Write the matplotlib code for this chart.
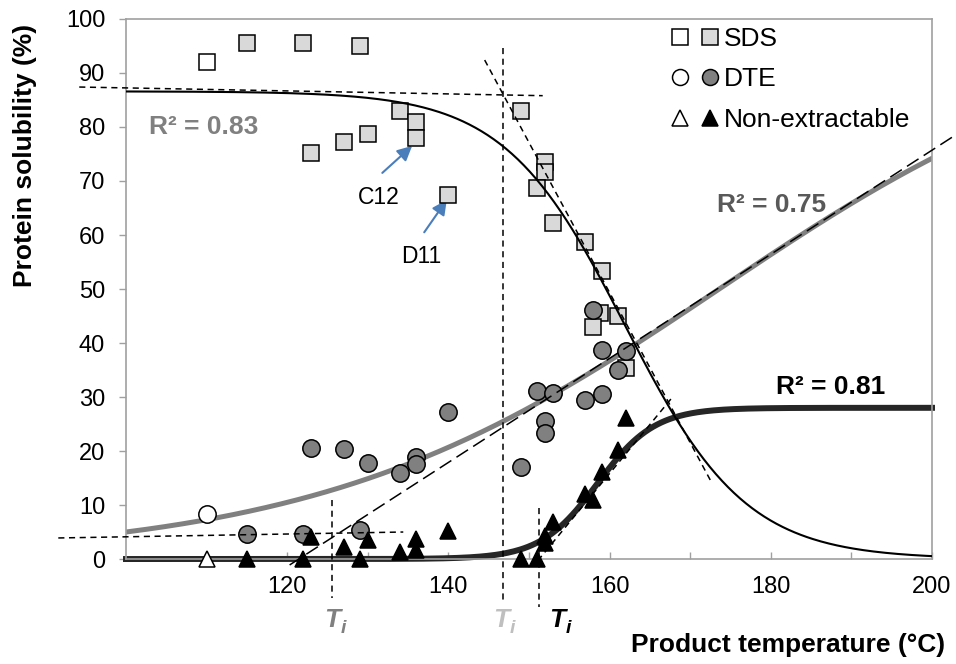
import numpy as np
import matplotlib
matplotlib.use("Agg")
import matplotlib.pyplot as plt
from matplotlib.lines import Line2D
from matplotlib.legend_handler import HandlerTuple

plt.rcParams['font.family'] = ['Liberation Sans', 'DejaVu Sans']

# --- data ---
sds_open_x = [110]
sds_open_y = [92]
sds_x = [115, 122, 129, 123, 127, 130, 134, 136, 136, 140, 149, 152, 152, 151, 153,
         157, 159, 158.8, 158, 161, 162]
sds_y = [95.5, 95.5, 95, 75.2, 77.2, 78.7, 83, 81, 78, 67.4, 83, 73.5, 71.7, 68.7, 62.3,
         58.7, 53.3, 45.5, 43, 45, 35.3]

dte_open_x = [110]
dte_open_y = [8.3]
dte_x = [115, 122, 123, 127, 129, 130, 134, 136, 136, 140, 149, 151, 152, 152, 153,
         157, 158, 159, 159, 161, 162]
dte_y = [4.6, 4.6, 20.6, 20.3, 5.3, 17.7, 15.9, 18.9, 17.6, 27.3, 17, 31.1, 25.5, 23.3, 30.7,
         29.4, 46.1, 38.7, 30.5, 35, 38.6]

ne_open_x = [110]
ne_open_y = [0]
ne_x = [115, 122, 123, 127, 129, 130, 134, 136, 136, 140, 149, 151, 152, 152, 153,
        157, 158, 159, 161, 162]
ne_y = [0, 0, 4.1, 2.3, 0, 3.5, 1.3, 3.7, 1.7, 5.2, 0, 0, 3.0, 4.3, 6.9,
        12.0, 11.0, 16.1, 20.2, 26.2]

# logistic fits (plateau, midpoint, scale)
sds_fit = (86.6, 161.9, 7.5)
dte_fit = (100.0, 173.6, 25.0)
ne_fit = (28.0, 158.5, 3.55)

# onset construction lines (x pairs, y pairs)
sds_base_x, sds_base_y = [94.2, 151.7], [87.4, 85.8]
sds_tan_x, sds_tan_y = [144.5, 172.5], [92.4, 14.6]
dte_base_x, dte_base_y = [91.6, 134.4], [3.9, 5.0]
dte_tan_x, dte_tan_y = [120.3, 202.9], [-1.1, 78.5]
ne_tan_x, ne_tan_y = [151.1, 167.7], [-0.3, 29.8]

ti_dte, ti_sds, ti_ne = 125.6, 146.8, 151.3


def logistic(x, a, x0, s, rising=True):
    z = (x - x0) / s
    return a / (1 + np.exp(-z if rising else z))


fig = plt.figure(figsize=(9.56, 6.64), dpi=100)
ax = fig.add_axes([0.1318, 0.1581, 0.8431, 0.8133])

xx = np.linspace(100, 200, 400)
ax.plot(xx, logistic(xx, *dte_fit), color='#808080', lw=3.6, zorder=2)
ax.plot(xx, logistic(xx, *ne_fit), color='#262626', lw=4.3, zorder=2, clip_on=False)

mk = dict(ls='none', mec='black', mew=1.1, zorder=4, clip_on=False)
ax.plot(sds_open_x, sds_open_y, marker='s', ms=12, mfc='white', **mk)
ax.plot(sds_x, sds_y, marker='s', ms=12, mfc='#d9d9d9', **mk)
ax.plot(dte_open_x, dte_open_y, marker='o', ms=12.5, mfc='white', **mk)
ax.plot(dte_x, dte_y, marker='o', ms=12.5, mfc='#808080', **mk)
ax.plot(ne_open_x, ne_open_y, marker='^', ms=12, mfc='white', **mk)
ax.plot(ne_x, ne_y, marker='^', ms=12, mfc='black', **mk)

ax.plot(xx, logistic(xx, *sds_fit, rising=False), color='black', lw=1.5, zorder=5)

dash = dict(color='black', lw=1.1, ls=(0, (4, 3)), zorder=6, clip_on=False)
ax.plot(sds_base_x, sds_base_y, **dash)
ax.plot(sds_tan_x, sds_tan_y, **dash)
ax.plot(dte_base_x, dte_base_y, **dash)
ax.plot(ne_tan_x, ne_tan_y, **dash)
ax.plot(dte_tan_x, dte_tan_y, color='black', lw=1.1, ls=(0, (9, 4)), zorder=6, clip_on=False)
ax.plot([ti_dte, ti_dte], [11, -7.2], **dash)
ax.plot([ti_sds, ti_sds], [94.6, -8.2], **dash)
ax.plot([ti_ne, ti_ne], [9.4, -8.9], **dash)


def ti_label(x, color):
    ax.text(x, -11.3, 'T', color=color, fontsize=19, fontweight='bold', style='italic',
            ha='center', va='center', clip_on=False)
    ax.annotate('i', xy=(x, -11.3), xytext=(8, -6), textcoords='offset points',
                color=color, fontsize=14, fontweight='bold', style='italic',
                ha='center', va='center', annotation_clip=False)


ti_label(125.6, '#808080')
ti_label(146.6, '#bfbfbf')
ti_label(153.5, 'black')

ax.text(102.9, 80, 'R² = 0.83', color='#808080', fontsize=19, fontweight='bold', va='center')
ax.text(173.3, 65.5, 'R² = 0.75', color='#595959', fontsize=19, fontweight='bold', va='center')
ax.text(180.6, 31.9, 'R² = 0.81', color='black', fontsize=19, fontweight='bold', va='center')

ax.text(131.4, 67, 'C12', fontsize=16.5, ha='center', va='center')
ax.text(136.6, 56, 'D11', fontsize=16.5, ha='center', va='center')
arrow = dict(arrowstyle='-|>', color='#4a7ebb', lw=1.5, mutation_scale=22, shrinkA=0, shrinkB=0)
ax.annotate('', xy=(135.5, 76.5), xytext=(131.8, 71.5), arrowprops=arrow)
ax.annotate('', xy=(139.8, 66.5), xytext=(137.0, 60.5), arrowprops=arrow)

ax.set_xlim(100, 200)
ax.set_ylim(0, 100)
xt = list(range(110, 201, 10))
ax.set_xticks(xt)
ax.set_xticklabels([str(t) if t % 20 == 0 else '' for t in xt])
ax.set_yticks(range(0, 101, 10))
ax.tick_params(axis='x', direction='in', length=5, width=1, color='#a0a0a0', labelsize=17, pad=12)
ax.tick_params(axis='y', direction='out', length=5, width=1, color='#a0a0a0', labelsize=17, pad=10)
for sp in ax.spines.values():
    sp.set_color('#a0a0a0')
    sp.set_linewidth(1.2)

ax.set_ylabel('Protein solubility (%)', fontsize=19, fontweight='bold', va='center')
ax.yaxis.set_label_coords(-0.125, 0.748)
ax.set_xlabel('Product temperature (°C)', fontsize=19, fontweight='bold', ha='right', va='center')
ax.xaxis.set_label_coords(1.016, -0.159)

# legend: open + filled marker pairs
def h(m, fc, ms):
    return Line2D([], [], ls='none', marker=m, ms=ms, mfc=fc, mec='black', mew=1.1)

handles = [(h('s', 'white', 11), h('s', '#d9d9d9', 11)),
           (h('o', 'white', 11.5), h('o', '#808080', 11.5)),
           (h('^', 'white', 11), h('^', 'black', 11))]
ax.legend(handles, ['SDS', 'DTE', 'Non-extractable'],
          handler_map={tuple: HandlerTuple(ndivide=None, pad=0.3)},
          loc='upper left', bbox_to_anchor=(0.673, 0.985), frameon=False, fontsize=19,
          handlelength=2.0, handletextpad=0.1, labelspacing=0.62,
          borderpad=0, borderaxespad=0)

fig.savefig('out.png', dpi=100)
